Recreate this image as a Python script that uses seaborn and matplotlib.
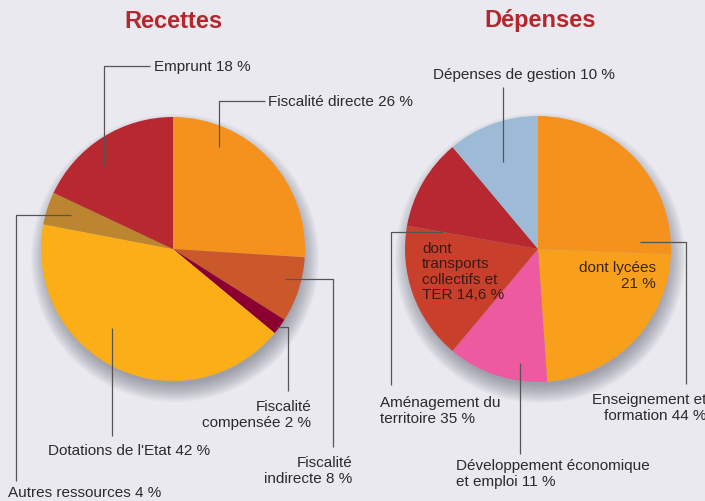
import numpy as np
import matplotlib.pyplot as plt
import matplotlib.patches as mpatches
import seaborn as sns

# Recettes (left pie), clockwise from 12 o'clock
recettes_labels = ["Fiscalité directe 26 %", "Fiscalité\nindirecte 8 %", "Fiscalité\ncompensée 2 %",
                   "Dotations de l'Etat 42 %", "Autres ressources 4 %", "Emprunt 18 %"]
recettes_values = [26, 8, 2, 42, 4, 18]
recettes_colors = ["#F5921E", "#CB582B", "#8B0030", "#FBAE17", "#BC8530", "#B72830"]

# Dépenses (right pie), slice sizes as drawn in the picture
depenses_parts = ["Enseignement (reste)", "dont lycées", "Développement économique",
                  "dont transports", "Aménagement (reste)", "Dépenses de gestion"]
depenses_values = [25.6, 23.3, 12.2, 16.7, 11.1, 11.1]
depenses_colors = ["#F5921E", "#F8A01C", "#EE5A9F", "#C8402C", "#B72831", "#9DBAD6"]

BG = "#E9E9EF"
TITLE = "#B5272F"
LINE = "#555555"
TXT = "#2b2b2b"

sns.set_theme(style="white")
plt.rcParams['font.family'] = ['Liberation Sans Narrow', 'Liberation Sans', 'DejaVu Sans']

H = 502
fig = plt.figure(figsize=(7.05, 5.02), dpi=100, facecolor=BG)
ax = fig.add_axes([0, 0, 1, 1])
ax.set_facecolor(BG)


def Y(y):
    return H - y


def shadow(cx, cy, r):
    # soft grey shadow under each pie, pushed downwards
    for i in range(16):
        ax.add_patch(mpatches.Circle((cx + 2, Y(cy) - 9), r + 12 - i * 1.2,
                                     color="#5c5c6a", alpha=0.04, lw=0, zorder=1))


pies = [((173, 250), 132, recettes_values, recettes_colors),
        ((538, 250), 133, depenses_values, depenses_colors)]
for (cx, cy), r, vals, cols in pies:
    shadow(cx, cy, r)
    wedges, _ = ax.pie(vals, colors=cols, startangle=90, counterclock=False,
                       center=(cx, Y(cy)), radius=r, frame=True,
                       wedgeprops=dict(linewidth=0))
    for w in wedges:
        w.set_zorder(2)

ax.set_xlim(0, 705)
ax.set_ylim(0, H)
ax.set_aspect("equal")
ax.axis("off")

# titles
for x, t in [(173, "Recettes"), (540, "Dépenses")]:
    ax.text(x, Y(21), t, ha="center", va="center", fontsize=17, fontweight="bold",
            color=TITLE, zorder=5)


def leader(pts):
    xs = [p[0] for p in pts]
    ys = [Y(p[1]) for p in pts]
    ax.plot(xs, ys, color=LINE, lw=0.9, zorder=4, solid_capstyle="butt")


def label(x, y, s, ha="left", color=TXT, size=11):
    ax.text(x, Y(y), s, ha=ha, va="center", fontsize=size, color=color,
            linespacing=1.15, zorder=5)


# left pie labels
leader([(150, 67), (104, 67), (104, 167)])
label(154, 67, recettes_labels[5])
leader([(265, 102), (219, 102), (219, 148)])
label(268, 102, recettes_labels[0])
leader([(71, 216), (16, 216), (16, 482)])
label(8, 493, recettes_labels[4])
leader([(112, 329), (112, 437)])
label(48, 451, recettes_labels[3])
leader([(277, 328), (288, 328), (288, 392)])
label(311, 415, recettes_labels[2], ha="right")
leader([(285, 280), (333, 280), (333, 448)])
label(352, 471, recettes_labels[1], ha="right")

# right pie labels
leader([(503, 88), (503, 163)])
label(433, 75, "Dépenses de gestion 10 %")
leader([(443, 233), (391, 233), (391, 386)])
label(380, 411, "Aménagement du\nterritoire 35 %")
leader([(520, 364), (520, 455)])
label(456, 474, "Développement économique\net emploi 11 %")
leader([(640, 243), (686, 243), (686, 385)])
label(706, 408, "Enseignement et\nformation 44 %", ha="right")
label(656, 276, "dont lycées\n21 %", ha="right", color="#3a2418")
label(422, 272, "dont\ntransports\ncollectifs et\nTER 14,6 %", color="#3a1a14")

fig.savefig("out.png", dpi=100, facecolor=BG)
